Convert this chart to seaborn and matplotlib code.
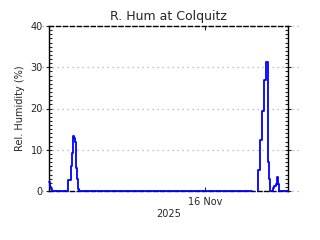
import matplotlib
matplotlib.use("Agg")
import matplotlib.pyplot as plt
import seaborn as sns
import pandas as pd
import numpy as np

# ---- data (step segments: start hour since 2025-11-11 10:00, value %) ----
seg1_hours = [0.0, 0.7, 1.2, 1.9, 13.4, 15.5, 16.2, 16.9, 17.6, 18.3, 19.0, 19.7, 20.4, 21.1, 142.7]
seg1_values = [2.3, 1.0, 0.4, 0.0, 2.6, 6.0, 9.3, 13.3, 12.8, 12.0, 5.5, 2.8, 0.5, 0.0, 0.0]
seg2_hours = [147.1, 147.1, 148.5, 150.0, 151.1, 152.3, 152.6, 153.7, 154.6, 155.3, 157.7, 158.5, 159.4, 160.1, 161.2, 161.9, 168.0]
seg2_values = [0.0, 5.0, 12.3, 19.5, 27.0, 30.0, 31.2, 7.0, 3.0, 0.0, 0.7, 1.2, 1.7, 3.4, 1.7, 0.0, 0.0]

start_time = "2025-11-11 10:00"
span_hours = 168
x_tick_times = ["2025-11-16"]
x_tick_labels = ["16 Nov"]
y_ticks = [0, 10, 20, 30, 40]
title = "R. Hum at Colquitz"
ylabel = "Rel. Humidity (%)"
xlabel = "2025"

t0 = pd.Timestamp(start_time)
df1 = pd.DataFrame({"time": t0 + pd.to_timedelta(seg1_hours, unit="h"), "rh": seg1_values})
df2 = pd.DataFrame({"time": t0 + pd.to_timedelta(seg2_hours, unit="h"), "rh": seg2_values})

sns.set_style("white")
plt.rcParams["font.family"] = ["DejaVu Sans"]

fig = plt.figure(figsize=(3.2, 2.4), dpi=100)
ax = fig.add_axes([49/320, 1-191/240, 239/320, 165/240])

for d in (df1, df2):
    sns.lineplot(data=d, x="time", y="rh", ax=ax, color="#0000ff", lw=1.3,
                 drawstyle="steps-post", clip_on=False, zorder=5, estimator=None,
                 sort=False)

ax.set_xlim(t0, t0 + pd.Timedelta(hours=span_hours))
ax.set_ylim(0, 40)

# dotted grid extending beyond the axes
for yv in y_ticks:
    ax.plot([-0.05, 1.05], [yv, yv], transform=ax.get_yaxis_transform(),
            ls=(0, (1, 3)), color="#b0b0b0", lw=0.9, clip_on=False, zorder=0)

ax.set_yticks(y_ticks)
ax.set_yticks(np.arange(0, 41, 1), minor=True)
ax.set_xticks(pd.to_datetime(x_tick_times))
ax.set_xticklabels(x_tick_labels)
ax.tick_params(axis="y", which="major", direction="inout", length=5, width=0.8,
               left=True, right=True, labelsize=7, pad=2)
ax.tick_params(axis="y", which="minor", direction="in", length=2.5, width=0.8,
               left=True, right=True)
ax.tick_params(axis="x", which="major", direction="in", length=3, width=0.8,
               bottom=True, top=True, labelsize=7, pad=4)
ax.tick_params(axis="x", which="minor", bottom=False, top=False)

for side in ["left", "right"]:
    ax.spines[side].set_color("black")
    ax.spines[side].set_linewidth(1.0)
for side in ["top", "bottom"]:
    ax.spines[side].set_color("black")
    ax.spines[side].set_linewidth(1.0)
    ax.spines[side].set_linestyle((0, (3, 2)))

ax.set_title(title, fontsize=9, pad=4)
ax.set_ylabel(ylabel, fontsize=7, labelpad=4)
ax.set_xlabel(xlabel, fontsize=7, labelpad=2)

fig.savefig("out.png", dpi=100, facecolor="white")
